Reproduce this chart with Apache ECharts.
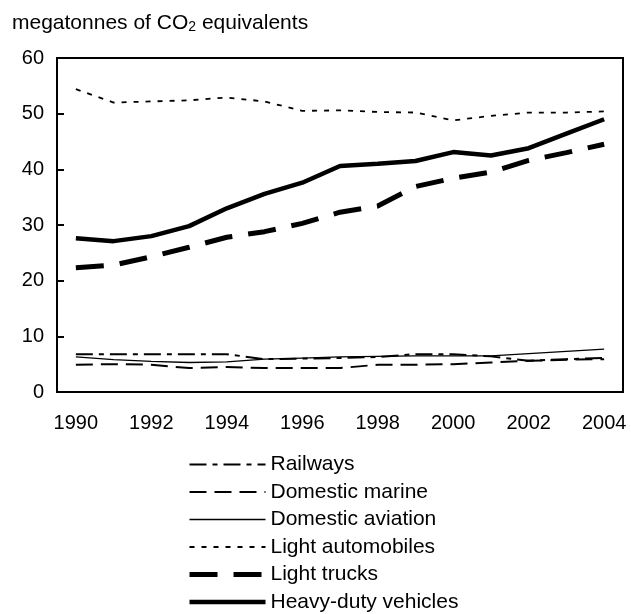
<!DOCTYPE html>
<html>
<head>
<meta charset="utf-8">
<script src="https://cdn.jsdelivr.net/npm/echarts@6/dist/echarts.min.js"></script>
<style>
  html, body { margin: 0; padding: 0; background: #fff; }
  #chart { width: 631px; height: 614px; }
</style>
</head>
<body>
<div id="chart"></div>
<script>
// years on the x axis
const years = ["1990", "1991", "1992", "1993", "1994", "1995", "1996", "1997",
  "1998", "1999", "2000", "2001", "2002", "2003", "2004"];

// megatonnes of CO2 equivalents
const railways = [6.8, 6.8, 6.8, 6.8, 6.8, 5.9, 6.0, 6.1, 6.3, 6.8, 6.8, 6.4, 5.6, 5.9, 6.1];
const domesticMarine = [4.9, 5.0, 4.9, 4.3, 4.5, 4.3, 4.3, 4.3, 4.9, 4.9, 5.0, 5.3, 5.6, 5.8, 5.9];
const domesticAviation = [6.3, 5.8, 5.5, 5.3, 5.4, 5.9, 6.1, 6.3, 6.4, 6.5, 6.5, 6.5, 6.9, 7.3, 7.7];
const lightAutomobiles = [54.4, 52.0, 52.2, 52.4, 52.9, 52.2, 50.5, 50.6, 50.3, 50.2, 48.8, 49.6, 50.2, 50.2, 50.4];
const lightTrucks = [22.3, 22.8, 24.3, 26.0, 27.8, 28.8, 30.3, 32.3, 33.4, 36.9, 38.4, 39.5, 41.6, 43.0, 44.5];
const heavyDuty = [27.6, 27.1, 28.0, 29.8, 33.0, 35.6, 37.6, 40.6, 41.0, 41.5, 43.1, 42.5, 43.8, 46.4, 49.0];

const font = "Liberation Sans, Arial, sans-serif";

// name, data, width, dash
const styles = [
  ["Railways", railways, 2, [17, 6, 5, 6]],
  ["Domestic marine", domesticMarine, 2, [17, 8]],
  ["Domestic aviation", domesticAviation, 1.3, "solid"],
  ["Light automobiles", lightAutomobiles, 1.8, [5, 7]],
  ["Light trucks", lightTrucks, 5, [28, 16]],
  ["Heavy-duty vehicles", heavyDuty, 4.5, "solid"]
];

const chart = echarts.init(document.getElementById("chart"));
chart.setOption({
  backgroundColor: "#fff",
  animation: false,
  title: {
    text: "megatonnes of CO{sub|2} equivalents",
    left: 12,
    top: 12,
    padding: 0,
    textStyle: {
      color: "#000",
      fontFamily: font,
      fontSize: 21,
      fontWeight: "normal",
      rich: {
        sub: { fontFamily: font, fontSize: 14, color: "#000", verticalAlign: "bottom", padding: [8, 0, 0, 0] }
      }
    }
  },
  grid: { left: 57, right: 8, top: 58, bottom: 222, show: true, borderColor: "#000", borderWidth: 2 },
  legend: {
    orient: "vertical",
    left: 187,
    top: 454,
    padding: 0,
    itemWidth: 76,
    itemHeight: 14,
    itemGap: 6.5,
    itemStyle: { color: "transparent", borderColor: "transparent", borderWidth: 0 },
    textStyle: { color: "#000", fontFamily: font, fontSize: 21 },
    data: styles.map(s => ({
      name: s[0],
      lineStyle: { color: "#000", width: s[2], type: s[3] }
    }))
  },
  xAxis: {
    type: "category",
    data: years,
    boundaryGap: true,
    axisLine: { lineStyle: { color: "#000", width: 2 } },
    axisTick: { inside: true, length: 7, interval: 0, lineStyle: { color: "#000", width: 2 } },
    axisLabel: { interval: 1, color: "#000", fontFamily: font, fontSize: 20, margin: 21 }
  },
  yAxis: {
    type: "value",
    min: 0,
    max: 60,
    interval: 10,
    splitLine: { show: false },
    axisLine: { show: true, lineStyle: { color: "#000", width: 2 } },
    axisTick: { show: true, inside: true, length: 7, lineStyle: { color: "#000", width: 2 } },
    axisLabel: { color: "#000", fontFamily: font, fontSize: 20, margin: 13 }
  },
  series: styles.map(s => ({
    name: s[0],
    type: "line",
    data: s[1],
    symbol: "none",
    silent: true,
    itemStyle: { color: "#000" },
    lineStyle: { color: "#000", width: s[2], type: s[3], cap: "butt" }
  }))
});
</script>
</body>
</html>
